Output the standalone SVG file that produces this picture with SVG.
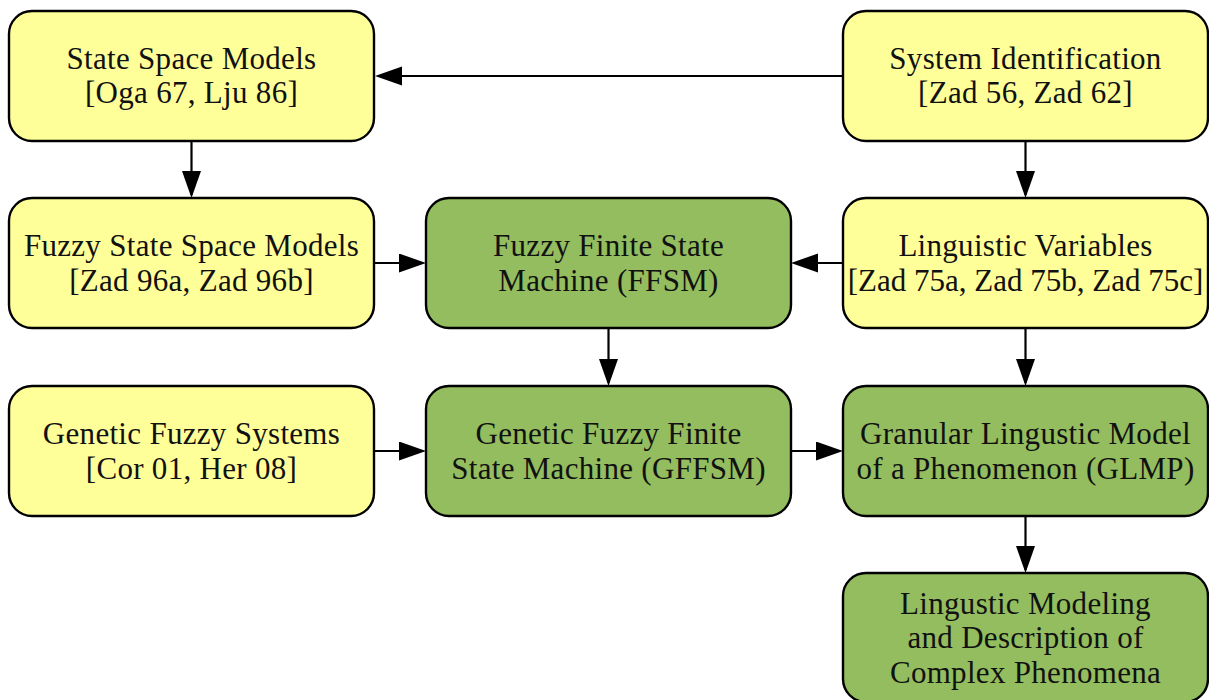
<svg xmlns="http://www.w3.org/2000/svg" width="1209" height="700" viewBox="0 0 1209 700">
  <style>
    .box { stroke: #000; stroke-width: 2.4; }
    .lit { fill: #FFFF99; }
    .grn { fill: #93BD5E; }
    .lbl { font-family: "Liberation Serif", "Times New Roman", serif; font-size: 31px; letter-spacing: 0.3px; fill: #111; text-anchor: middle; }
    .tight { letter-spacing: 0; }
    .edge { fill: none; stroke: #000; stroke-width: 2.2; marker-end: url(#head); }
  </style>
  <defs>
    <marker id="head" markerUnits="userSpaceOnUse" markerWidth="28" markerHeight="20" refX="24" refY="9.5" orient="auto">
      <path d="M0,0 L27,9.5 L0,19 z" fill="#000"/>
    </marker>
  </defs>

  <rect width="1209" height="700" fill="#fff"/>

  <!-- connectors -->
  <g id="connectors">
    <path class="edge" d="M843,76 H378"/>
    <path class="edge" d="M191.5,141 V195"/>
    <path class="edge" d="M1025.5,141 V195"/>
    <path class="edge" d="M374,263 H423"/>
    <path class="edge" d="M843,263 H794"/>
    <path class="edge" d="M608.5,328 V383"/>
    <path class="edge" d="M1025.5,328 V383"/>
    <path class="edge" d="M374,451 H423"/>
    <path class="edge" d="M791,451 H840"/>
    <path class="edge" d="M1025.5,516 V570"/>
  </g>

  <!-- row 1 -->
  <g id="ssm">
    <rect class="box lit" x="9" y="11" width="365" height="130" rx="23"/>
    <text class="lbl" x="191.5" y="68.5">State Space Models</text>
    <text class="lbl" x="191.5" y="103">[Oga 67, Lju 86]</text>
  </g>
  <g id="sysid">
    <rect class="box lit" x="843" y="11" width="365" height="130" rx="23"/>
    <text class="lbl" x="1025.5" y="68.5">System Identification</text>
    <text class="lbl" x="1025.5" y="103">[Zad 56, Zad 62]</text>
  </g>

  <!-- row 2 -->
  <g id="fssm">
    <rect class="box lit" x="9" y="198" width="365" height="130" rx="23"/>
    <text class="lbl" x="191.5" y="256">Fuzzy State Space Models</text>
    <text class="lbl" x="191.5" y="290.5">[Zad 96a, Zad 96b]</text>
  </g>
  <g id="ffsm">
    <rect class="box grn" x="426" y="198" width="365" height="130" rx="23"/>
    <text class="lbl" x="608.5" y="256">Fuzzy Finite State</text>
    <text class="lbl" x="608.5" y="290.5">Machine (FFSM)</text>
  </g>
  <g id="lingvar">
    <rect class="box lit" x="843" y="198" width="365" height="130" rx="23"/>
    <text class="lbl" x="1025.5" y="256">Linguistic Variables</text>
    <text class="lbl tight" x="1025.5" y="290.5">[Zad 75a, Zad 75b, Zad 75c]</text>
  </g>

  <!-- row 3 -->
  <g id="gfs">
    <rect class="box lit" x="9" y="386" width="365" height="130" rx="23"/>
    <text class="lbl" x="191.5" y="444">Genetic Fuzzy Systems</text>
    <text class="lbl" x="191.5" y="478.5">[Cor 01, Her 08]</text>
  </g>
  <g id="gffsm">
    <rect class="box grn" x="426" y="386" width="365" height="130" rx="23"/>
    <text class="lbl" x="608.5" y="444">Genetic Fuzzy Finite</text>
    <text class="lbl" x="608.5" y="478.5">State Machine (GFFSM)</text>
  </g>
  <g id="glmp">
    <rect class="box grn" x="843" y="386" width="365" height="130" rx="23"/>
    <text class="lbl" x="1025.5" y="444">Granular Lingustic Model</text>
    <text class="lbl" x="1025.5" y="478.5">of a Phenomenon (GLMP)</text>
  </g>

  <!-- row 4 -->
  <g id="lmdcp">
    <rect class="box grn" x="843" y="573" width="365" height="129" rx="23"/>
    <text class="lbl" x="1025.5" y="613.5">Lingustic Modeling</text>
    <text class="lbl" x="1025.5" y="648">and Description of</text>
    <text class="lbl" x="1025.5" y="682.5">Complex Phenomena</text>
  </g>
</svg>
